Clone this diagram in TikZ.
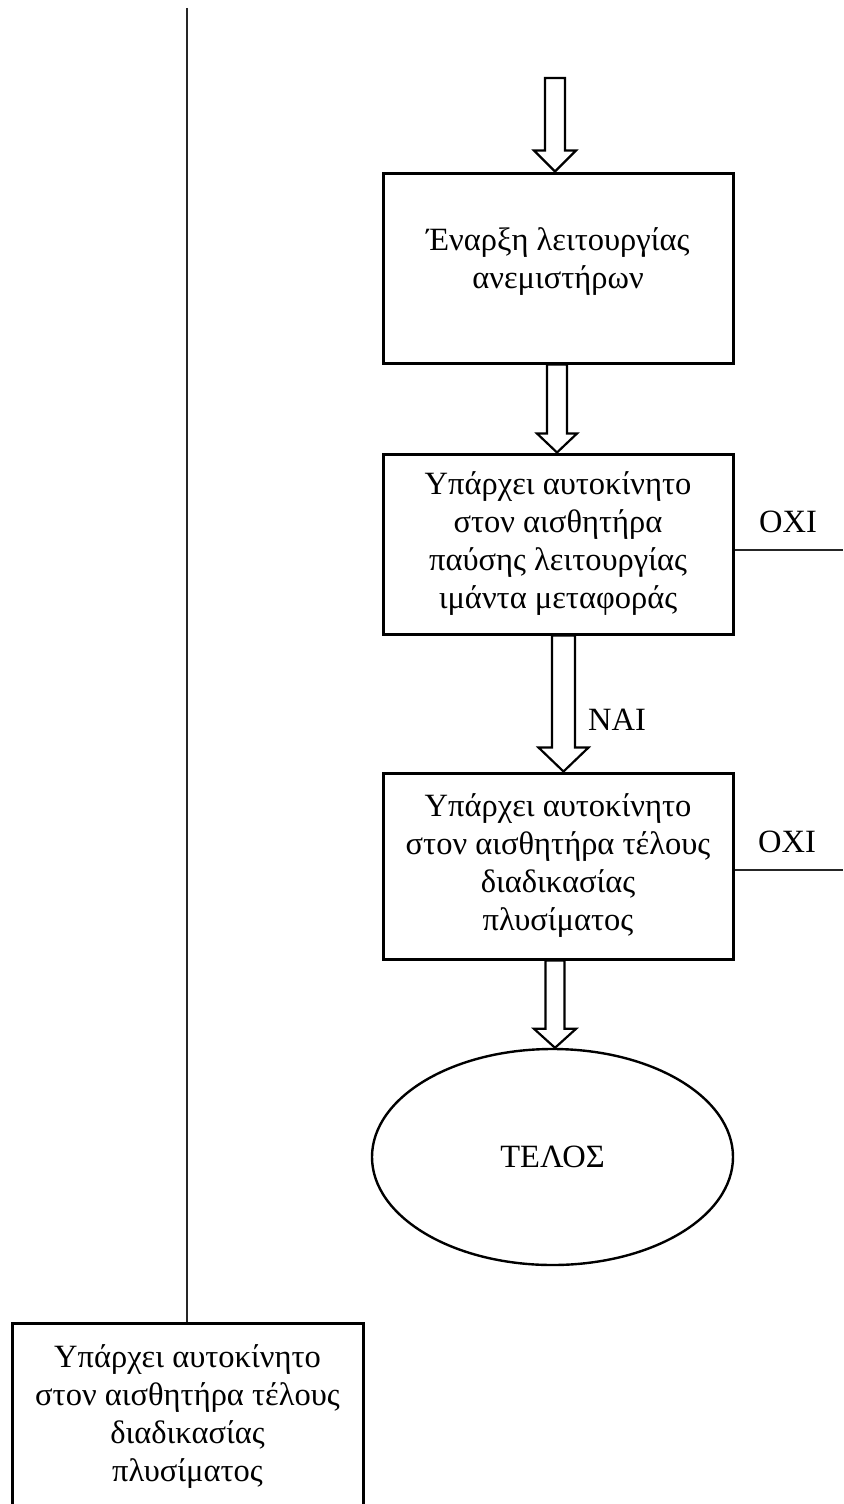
\documentclass[tikz,border=0pt]{standalone}
\usepackage{fontspec}
\setmainfont{Liberation Serif}
\usetikzlibrary{calc,shapes.geometric}

\tikzset{
  boxfont/.style={font=\fontsize{32.5pt}{38pt}\selectfont},
  procbox/.style={draw, line width=3pt, rectangle, minimum width=350pt,
    inner sep=0pt, align=center, boxfont},
  endnode/.style={draw, line width=2.4pt, ellipse, minimum width=361pt,
    minimum height=216pt, inner sep=0pt, boxfont},
  arrowline/.style={draw, line width=2.2pt, line join=miter, fill=white},
  thinline/.style={line width=1.4pt, black!85},
  lbl/.style={boxfont, inner sep=0pt}
}

% hollow block arrow: #1 shaft start, #2 tip, #3 shaft half width,
% #4 head half width, #5 head length
\newcommand{\hollowarrow}[5]{%
  \path[arrowline] ($(#1)+(-#3,0)$) -- ($(#2)+(-#3,-#5)$) -- ($(#2)+(-#4,-#5)$)
    -- (#2) -- ($(#2)+(#4,-#5)$) -- ($(#2)+(#3,-#5)$) -- ($(#1)+(#3,0)$) -- cycle;}

\begin{document}
\begin{tikzpicture}[x=1pt,y=-1pt]
\useasboundingbox (0,0) rectangle (843,1504);

% process boxes (the strut in b1 lifts its two lines slightly)
\node[procbox, minimum height=190pt] (b1) at (558,268)
  {Έναρξη λειτουργίας\\ανεμιστήρων\rule[-19pt]{0pt}{0pt}};
\node[procbox, minimum height=180pt] (b2) at (558,544)
  {Υπάρχει αυτοκίνητο\\στον αισθητήρα\\παύσης λειτουργίας\\ιμάντα μεταφοράς};
\node[procbox, minimum height=186pt] (b3) at (558,866)
  {Υπάρχει αυτοκίνητο\\στον αισθητήρα τέλους\\διαδικασίας\\πλυσίματος};
\node[endnode] (end) at (552.5,1157) {ΤΕΛΟΣ};
\node[procbox, minimum width=351pt, minimum height=186pt] (b4) at (187.5,1416)
  {Υπάρχει αυτοκίνητο\\στον αισθητήρα τέλους\\διαδικασίας\\πλυσίματος};

% block arrows
\coordinate (a1top) at (555,78);
\coordinate (a1tip) at (a1top |- b1.north);
\hollowarrow{a1top}{a1tip}{10}{21}{21}

\coordinate (a2top) at ($(b1.south)+(-1,0)$);
\coordinate (a2tip) at (a2top |- b2.north);
\hollowarrow{a2top}{a2tip}{10}{20}{19}

\coordinate (a3top) at ($(b2.south)+(5.5,0)$);
\coordinate (a3tip) at (a3top |- b3.north);
\hollowarrow{a3top}{a3tip}{11.5}{25}{24}

\coordinate (a4top) at ($(b3.south)+(-3,0)$);
\coordinate (a4tip) at (a4top |- end.north);
\hollowarrow{a4top}{a4tip}{9.5}{21}{19}

% branch lines
\coordinate (n1) at (843,550);
\draw[thinline] (b2.east |- n1) -- (n1);
\coordinate (n2) at (843,870);
\draw[thinline] (b3.east |- n2) -- (n2);
\coordinate (vtop) at (187,8);
\draw[thinline] (vtop) -- (vtop |- b4.north);

% labels
\node[lbl] (l1) at (788,522) {ΟΧΙ};
\node[lbl] (l2) at (787,842) {ΟΧΙ};
\node[lbl] (l3) at (617,720) {ΝΑΙ};
\end{tikzpicture}
\end{document}
